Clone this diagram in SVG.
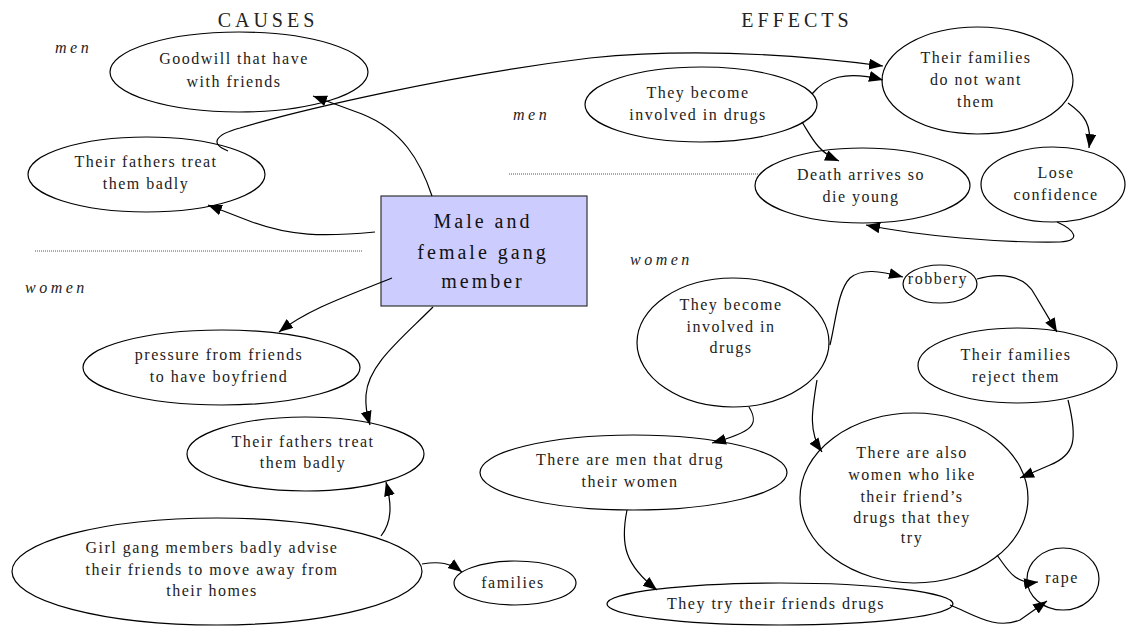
<svg xmlns="http://www.w3.org/2000/svg" width="1128" height="627" viewBox="0 0 1128 627">
<style>
.bg{fill:#ffffff}
.node{fill:#ffffff;stroke:#000000;stroke-width:1.2}
.core{fill:#ccccff;stroke:#333333;stroke-width:1.2}
.t{font-family:"Liberation Serif","Times New Roman",serif;font-size:16px;letter-spacing:1.5px;text-anchor:middle;fill:#222222}
.tc{font-family:"Liberation Serif","Times New Roman",serif;font-size:20px;letter-spacing:3px;text-anchor:middle;fill:#111111}
.title{font-family:"Liberation Serif","Times New Roman",serif;font-size:20px;letter-spacing:4px;text-anchor:middle;fill:#222222}
.lab{font-family:"Liberation Serif","Times New Roman",serif;font-size:16px;font-style:italic;letter-spacing:3.5px;fill:#222222}
.dot{stroke:#555555;stroke-width:1;stroke-dasharray:1 1;fill:none}
.edge{fill:none;stroke:#000000;stroke-width:1.2;marker-end:url(#ah)}
</style>
<defs>
<marker id="ah" markerUnits="userSpaceOnUse" markerWidth="15" markerHeight="12" refX="14" refY="5.5" orient="auto">
<path d="M0,0 L14,5.5 L0,11 z" fill="#000000"/>
</marker>
</defs>
<rect class="bg" x="0" y="0" width="1128" height="627"/>

<g id="headings">
<text class="title" x="268" y="27">CAUSES</text>
<text class="title" x="797" y="27">EFFECTS</text>
<text class="lab" x="55" y="53">men</text>
<text class="lab" x="513" y="120">men</text>
<text class="lab" x="25" y="293">women</text>
<text class="lab" x="630" y="265">women</text>
<line class="dot" x1="35" y1="251" x2="362" y2="251"/>
<line class="dot" x1="509" y1="174" x2="758" y2="174"/>
</g>

<g id="n-goodwill">
<ellipse class="node" cx="239" cy="72" rx="129" ry="40"/>
<text class="t" x="234" y="64">Goodwill that have</text>
<text class="t" x="234" y="87">with friends</text>
</g>
<g id="n-fathers-men">
<ellipse class="node" cx="146.5" cy="174.5" rx="118.5" ry="37.5"/>
<text class="t" x="146" y="167">Their fathers treat</text>
<text class="t" x="146" y="189">them badly</text>
</g>
<g id="n-core">
<rect class="core" x="381" y="196" width="206" height="110"/>
<text class="tc" x="483" y="228">Male and</text>
<text class="tc" x="483" y="259">female gang</text>
<text class="tc" x="483" y="288">member</text>
</g>
<g id="n-drugs-men">
<ellipse class="node" cx="701" cy="104.5" rx="116" ry="37.5"/>
<text class="t" x="698" y="98">They become</text>
<text class="t" x="698" y="120">involved in drugs</text>
</g>
<g id="n-families-men">
<ellipse class="node" cx="977.5" cy="80.5" rx="95.5" ry="53.5"/>
<text class="t" x="976" y="63">Their families</text>
<text class="t" x="976" y="85">do not want</text>
<text class="t" x="976" y="107">them</text>
</g>
<g id="n-death">
<ellipse class="node" cx="862.5" cy="185.5" rx="107.5" ry="37.5"/>
<text class="t" x="861" y="180">Death arrives so</text>
<text class="t" x="861" y="202">die young</text>
</g>
<g id="n-lose">
<ellipse class="node" cx="1053" cy="184.5" rx="72" ry="37.5"/>
<text class="t" x="1056" y="178">Lose</text>
<text class="t" x="1056" y="200">confidence</text>
</g>
<g id="n-pressure">
<ellipse class="node" cx="221.5" cy="367.5" rx="138.5" ry="37.5"/>
<text class="t" x="219" y="360">pressure from friends</text>
<text class="t" x="219" y="382">to have boyfriend</text>
</g>
<g id="n-fathers-women">
<ellipse class="node" cx="305.5" cy="454" rx="118.5" ry="37"/>
<text class="t" x="303" y="447">Their fathers treat</text>
<text class="t" x="303" y="468">them badly</text>
</g>
<g id="n-girl">
<ellipse class="node" cx="217" cy="571.5" rx="205" ry="53.5"/>
<text class="t" x="212" y="553">Girl gang members badly advise</text>
<text class="t" x="212" y="575">their friends to move away from</text>
<text class="t" x="212" y="596">their homes</text>
</g>
<g id="n-families">
<ellipse class="node" cx="515" cy="583" rx="61" ry="22"/>
<text class="t" x="513" y="588">families</text>
</g>
<g id="n-drugs-women">
<ellipse class="node" cx="733" cy="342.5" rx="96" ry="64.5"/>
<text class="t" x="731" y="310">They become</text>
<text class="t" x="731" y="332">involved in</text>
<text class="t" x="731" y="353">drugs</text>
</g>
<g id="n-robbery">
<ellipse class="node" cx="940" cy="284" rx="37" ry="19"/>
<text class="t" x="938" y="284">robbery</text>
</g>
<g id="n-reject">
<ellipse class="node" cx="1017.5" cy="365.5" rx="99.5" ry="37.5"/>
<text class="t" x="1016" y="360">Their families</text>
<text class="t" x="1016" y="382">reject them</text>
</g>
<g id="n-also">
<ellipse class="node" cx="914" cy="498" rx="114" ry="85"/>
<text class="t" x="912" y="458">There are also</text>
<text class="t" x="912" y="480">women who like</text>
<text class="t" x="912" y="502">their friend’s</text>
<text class="t" x="912" y="523">drugs that they</text>
<text class="t" x="912" y="543">try</text>
</g>
<g id="n-rape">
<ellipse class="node" cx="1063" cy="579" rx="36" ry="31"/>
<text class="t" x="1062" y="583">rape</text>
</g>
<g id="n-mendrug">
<ellipse class="node" cx="633.5" cy="472.5" rx="153.5" ry="37.5"/>
<text class="t" x="630" y="465">There are men that drug</text>
<text class="t" x="630" y="487">their women</text>
</g>
<g id="n-try">
<ellipse class="node" cx="780" cy="604" rx="173" ry="21"/>
<text class="t" x="776" y="609">They try their friends drugs</text>
</g>

<g id="connectors">
<path class="edge" d="M432,196 C420,160 402,130 362,114 L313,96"/>
<path class="edge" d="M375,232 C322,237 290,236 252,222 L208,205"/>
<path class="edge" d="M228,151 C210,144 214,135 240,128 C300,110 450,75 590,58 C700,47 800,55 883,66"/>
<path class="edge" d="M812,94 C825,78 845,70 883,80"/>
<path class="edge" d="M802,122 C812,138 818,152 839,161"/>
<path class="edge" d="M1068,103 C1085,115 1092,125 1089,148"/>
<path class="edge" d="M1057,222 C1075,230 1082,241 1060,242 C1000,243 920,236 866,225"/>
<path class="edge" d="M392,278 C350,295 310,308 279,332"/>
<path class="edge" d="M433,307 C400,340 368,365 366,395 C365,410 368,418 370,425"/>
<path class="edge" d="M381,536 C392,522 392,505 386,482"/>
<path class="edge" d="M422,564 C440,561 450,563 462,572"/>
<path class="edge" d="M830,345 C836,320 838,290 850,278 C862,268 880,271 903,277"/>
<path class="edge" d="M977,279 C1000,272 1025,275 1035,295 C1045,312 1050,320 1057,332"/>
<path class="edge" d="M817,380 C812,410 808,432 822,452"/>
<path class="edge" d="M1068,400 C1078,440 1075,455 1050,465 L1020,478"/>
<path class="edge" d="M997,555 C1008,570 1015,585 1038,582"/>
<path class="edge" d="M749,407 C760,425 752,432 712,443"/>
<path class="edge" d="M627,510 C620,545 625,565 657,590"/>
<path class="edge" d="M950,605 C975,615 995,630 1020,620 L1047,601"/>
</g>
</svg>
